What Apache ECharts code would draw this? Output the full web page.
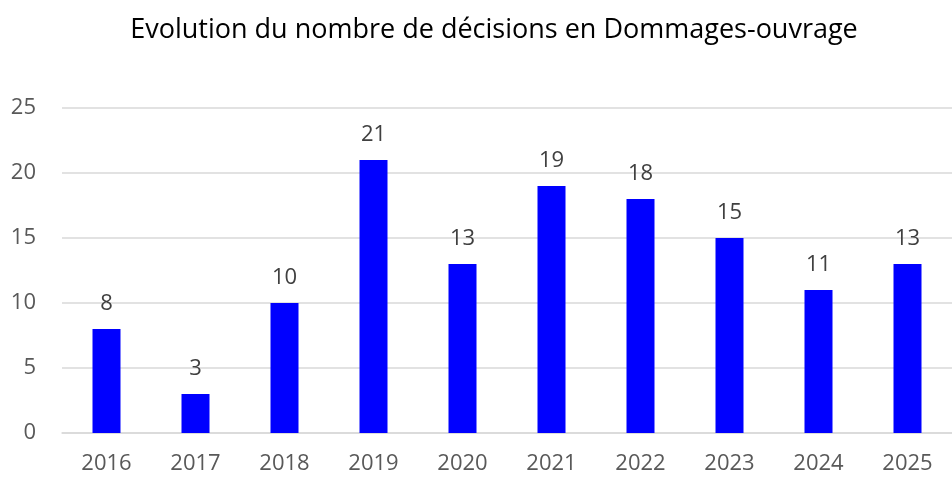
<!DOCTYPE html>
<html>
<head>
<meta charset="utf-8">
<script src="https://cdn.jsdelivr.net/npm/echarts@6/dist/echarts.min.js"></script>
<style>
html, body { margin: 0; padding: 0; background: #fff; }
#chart { width: 952px; height: 477px; }
</style>
</head>
<body>
<div id="chart"></div>
<script>
// données
var annees = ['2016', '2017', '2018', '2019', '2020', '2021', '2022', '2023', '2024', '2025']
var decisions = [8, 3, 10, 21, 13, 19, 18, 15, 11, 13]
var titre = 'Evolution du nombre de décisions en Dommages-ouvrage'

var chart = echarts.init(document.getElementById('chart'))
chart.setOption({
  animation: false,
  title: {
    text: titre,
    left: 489,
    top: 12,
    textAlign: 'center',
    textStyle: {
      fontFamily: 'Open Sans',
      fontSize: 27,
      fontWeight: 'normal',
      color: '#000'
    }
  },
  grid: {
    left: 62,
    top: 108,
    width: 897,
    height: 325
  },
  xAxis: {
    type: 'category',
    data: annees,
    axisTick: { show: false },
    axisLine: { lineStyle: { color: '#d9d9d9', width: 1.5 } },
    axisLabel: {
      color: '#595959',
      fontFamily: 'Open Sans',
      fontSize: 22,
      margin: 20
    }
  },
  yAxis: {
    type: 'value',
    min: 0,
    max: 25,
    interval: 5,
    axisLine: { show: false },
    axisTick: { show: false },
    splitLine: { lineStyle: { color: '#d9d9d9', width: 1.5 } },
    axisLabel: {
      color: '#595959',
      fontFamily: 'Open Sans',
      fontSize: 22,
      margin: 26
    }
  },
  series: [
    {
      type: 'bar',
      data: decisions,
      barWidth: 28,
      itemStyle: { color: '#0000ff' },
      label: {
        show: true,
        position: 'top',
        distance: 14,
        color: '#404040',
        fontFamily: 'Open Sans',
        fontSize: 22
      }
    }
  ]
})
</script>
</body>
</html>
